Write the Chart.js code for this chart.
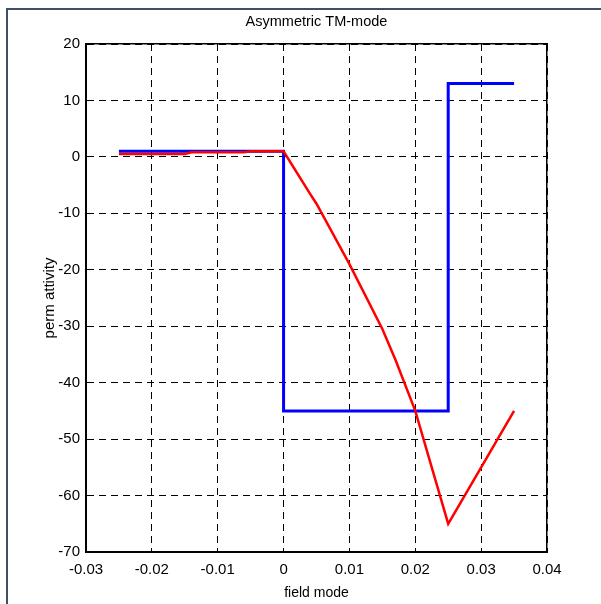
<!DOCTYPE html>
<html>
<head>
<meta charset="utf-8">
<script src="https://cdn.jsdelivr.net/npm/chart.js@4/dist/chart.umd.min.js"></script>
<style>
  html, body { margin: 0; padding: 0; background: #fff; }
  #wrap { position: relative; width: 601px; height: 604px; }
  #frame {
    position: absolute; left: 6px; top: 8px; right: 0; bottom: 0;
    border-top: 2px solid #3e4f66; border-left: 2px solid #3e4f66;
    pointer-events: none;
  }
</style>
</head>
<body>
<div id="wrap">
  <canvas id="chart" width="601" height="604"></canvas>
  <div id="frame"></div>
</div>
<script>
// data
const blueX = [-0.025, 0, 0, 0.025, 0.025, 0.035];
const blueY = [1, 1, -45, -45, 13, 13];

const redX = [-0.025, -0.015, -0.014, -0.006, -0.005, 0, 0.004, 0.005, 0.01, 0.015, 0.017, 0.02, 0.025, 0.03, 0.0325, 0.035];
const redY = [0.5, 0.5, 0.8, 0.8, 1, 1, -6.5, -8.3, -19, -30.5, -36, -45, -65, -55, -50, -45];

const xTicks = [-0.03, -0.02, -0.01, 0, 0.01, 0.02, 0.03, 0.04];
const xTickLabels = ['-0.03', '-0.02', '-0.01', '0', '0.01', '0.02', '0.03', '0.04'];
const yTicks = [20, 10, 0, -10, -20, -30, -40, -50, -60, -70];

const chartTitle = 'Asymmetric TM-mode';
const xTitle = 'field mode';
const yTitle = 'perm attivity';

const FONT = "'Liberation Sans', Arial, sans-serif";

const toPoints = (xs, ys) => xs.map((x, i) => ({ x: x, y: ys[i] }));

const frameBorder = { display: true, color: '#000', width: 1.5 };

new Chart(document.getElementById('chart').getContext('2d'), {
  type: 'scatter',
  data: {
    datasets: [
      {
        label: 'red',
        data: toPoints(redX, redY),
        showLine: true,
        borderColor: '#ff0000',
        borderWidth: 2.5,
        pointRadius: 0,
        tension: 0
      },
      {
        label: 'blue',
        data: toPoints(blueX, blueY),
        showLine: true,
        borderColor: '#0000ff',
        borderWidth: 3,
        pointRadius: 0,
        tension: 0
      }
    ]
  },
  options: {
    responsive: false,
    animation: false,
    layout: { padding: { left: 0, right: 54, top: 0, bottom: 0 } },
    plugins: {
      legend: { display: false },
      tooltip: { enabled: false }
    },
    scales: {
      x: {
        type: 'linear',
        position: 'bottom',
        min: -0.03,
        max: 0.04,
        afterBuildTicks: (axis) => { axis.ticks = xTicks.map(v => ({ value: v })); },
        afterFit: (axis) => { axis.height = 52; },
        ticks: {
          color: '#000',
          padding: 9,
          maxRotation: 0,
          font: { family: FONT, size: 15 },
          callback: (v, i) => xTickLabels[i]
        },
        grid: { color: '#000', lineWidth: 1, drawTicks: false },
        border: { display: true, color: '#000', width: 2, dash: [7, 5] },
        title: {
          display: true,
          text: xTitle,
          color: '#000',
          font: { family: FONT, size: 14 },
          padding: { top: 0, bottom: 2 }
        }
      },
      y: {
        type: 'linear',
        position: 'left',
        min: -70,
        max: 20,
        afterBuildTicks: (axis) => { axis.ticks = yTicks.map(v => ({ value: v })); },
        afterFit: (axis) => { axis.width = 86; },
        ticks: {
          color: '#000',
          padding: 6,
          font: { family: FONT, size: 15 }
        },
        grid: { color: '#000', lineWidth: 1, drawTicks: false },
        border: { display: true, color: '#000', width: 2, dash: [7, 5] },
        title: {
          display: true,
          text: yTitle,
          color: '#000',
          font: { family: FONT, size: 15 },
          padding: { top: 41, bottom: 0 }
        }
      },
      x2: {
        type: 'linear',
        position: 'top',
        min: -0.03,
        max: 0.04,
        afterFit: (axis) => { axis.height = 44; },
        ticks: { display: false },
        grid: { display: false, drawTicks: false },
        border: frameBorder,
        title: {
          display: true,
          text: chartTitle,
          color: '#000',
          font: { family: FONT, size: 14.5 },
          padding: { top: 13, bottom: 0 }
        }
      },
      y2: {
        type: 'linear',
        position: 'right',
        min: -70,
        max: 20,
        afterFit: (axis) => { axis.width = 0; },
        ticks: { display: false },
        grid: { display: false, drawTicks: false },
        border: frameBorder
      }
    }
  }
});
</script>
</body>
</html>
